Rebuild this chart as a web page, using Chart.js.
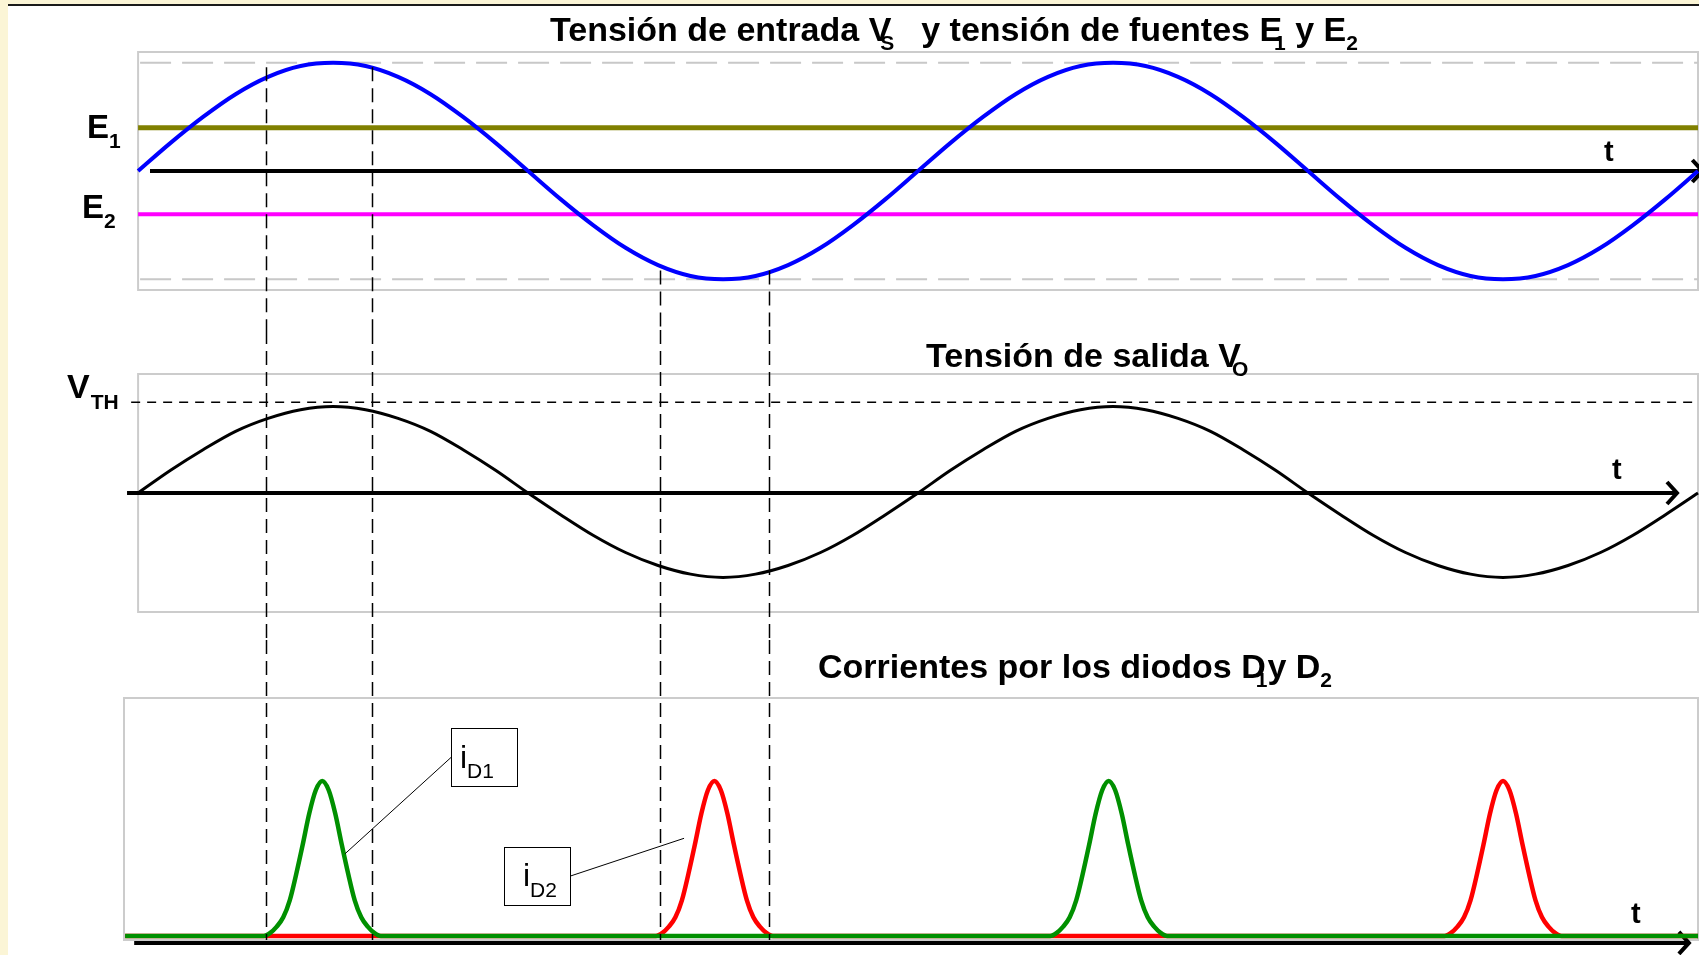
<!DOCTYPE html>
<html><head><meta charset="utf-8">
<script src="https://cdn.jsdelivr.net/npm/chart.js@4.4.1/dist/chart.umd.min.js"></script>
<style>
html,body{margin:0;padding:0;background:#fff;width:1699px;height:955px;overflow:hidden;position:relative;}
#creamLeft{position:absolute;left:0;top:0;width:8px;height:955px;background:#FBF5D6;}
#creamTop{position:absolute;left:0;top:0;width:1699px;height:4px;background:#FBF5D6;}
#topRule{position:absolute;left:8px;top:4px;width:1691px;height:2px;background:#1a1a1a;}
canvas{position:absolute;left:0;}
</style></head><body>
<div id="creamLeft"></div><div id="creamTop"></div><div id="topRule"></div>
<canvas id="c1" width="1699" height="330" style="top:0px"></canvas>
<canvas id="c2" width="1699" height="310" style="top:330px"></canvas>
<canvas id="c3" width="1699" height="315" style="top:640px"></canvas>
<script>
// ---- time axis (electrical degrees) ----
const tDeg = [0,15,30,45,60,75,90,105,120,135,150,165,180,195,210,225,240,255,270,285,300,315,330,345,360,375,390,405,420,435,450,465,480,495,510,525,540,555,570,585,600,615,630,645,660,675,690,705,720];
// ---- input voltage Vs (per unit) ----
const vS = [0,0.26,0.5,0.71,0.87,0.97,1,0.97,0.87,0.71,0.5,0.26,0,-0.26,-0.5,-0.71,-0.87,-0.97,-1,-0.97,-0.87,-0.71,-0.5,-0.26,0,0.26,0.5,0.71,0.87,0.97,1,0.97,0.87,0.71,0.5,0.26,0,-0.26,-0.5,-0.71,-0.87,-0.97,-1,-0.97,-0.87,-0.71,-0.5,-0.26,0];
// ---- source levels ----
const E1 = 0.40;
const E2 = -0.40;
const tLevel = [0, 720];
// ---- output voltage Vo ----
const vO = [0,0.21,0.4,0.57,0.69,0.77,0.8,0.77,0.69,0.57,0.4,0.21,0,-0.2,-0.39,-0.55,-0.67,-0.75,-0.78,-0.75,-0.67,-0.55,-0.39,-0.2,0,0.21,0.4,0.57,0.69,0.77,0.8,0.77,0.69,0.57,0.4,0.21,0,-0.2,-0.39,-0.55,-0.67,-0.75,-0.78,-0.75,-0.67,-0.55,-0.39,-0.2,0];
const VTH = 0.84;
const tVth = [-3.2, 720];
// ---- diode currents ----
const tD1 = [-6,58,61,64,67,70,73,76,79,82,85,88,91,94,97,100,103,106,109,112,421,424,427,430,433,436,439,442,445,448,451,454,457,460,463,466,469,472,475,720];
const iD1 = [0,0,0.02,0.06,0.12,0.23,0.4,0.59,0.79,0.94,1,0.94,0.79,0.59,0.4,0.23,0.12,0.06,0.02,0,0,0.02,0.06,0.12,0.23,0.4,0.59,0.79,0.94,1,0.94,0.79,0.59,0.4,0.23,0.12,0.06,0.02,0,0];
const tD2 = [-6,239,242,245,248,251,254,257,260,263,266,269,272,275,278,281,284,287,290,293,603,606,609,612,615,618,621,624,627,630,633,636,639,642,645,648,651,654,657,720];
const iD2 = [0,0,0.02,0.06,0.12,0.23,0.4,0.59,0.79,0.94,1,0.94,0.79,0.59,0.4,0.23,0.12,0.06,0.02,0,0,0.02,0.06,0.12,0.23,0.4,0.59,0.79,0.94,1,0.94,0.79,0.59,0.4,0.23,0.12,0.06,0.02,0,0];
// ---- reference instants (vertical dashed lines) ----
const markT = [59, 108, 241, 291];
const markFrom = [0.96, 0.96, -0.92, -0.92];
const gridVs = [1, -1];

const FONT = '"Liberation Sans", Arial, sans-serif';
const pts = (xs, ys) => xs.map((x, i) => ({x, y: ys[i]}));
const flat = (xs, v) => xs.map(x => ({x, y: v}));

function rich(ctx, x, y, parts) {
  let cx = x;
  ctx.textAlign = 'left'; ctx.textBaseline = 'alphabetic'; ctx.fillStyle = '#000';
  for (const p of parts) {
    ctx.font = (p.w || 'bold') + ' ' + p.s + 'px ' + FONT;
    cx += (p.dx || 0);
    ctx.fillText(p.t, cx, y + (p.dy || 0));
    cx += ctx.measureText(p.t).width;
  }
}
function seg(ctx, x0, y0, x1, y1) { ctx.beginPath(); ctx.moveTo(x0, y0); ctx.lineTo(x1, y1); ctx.stroke(); }
function arrow(ctx, x0, x1, y, lw) {
  ctx.strokeStyle = '#000'; ctx.lineWidth = lw; ctx.setLineDash([]); ctx.lineCap = 'butt'; ctx.lineJoin = 'miter';
  seg(ctx, x0, y, x1, y);
  ctx.beginPath(); ctx.moveTo(x1 - 10, y - 11); ctx.lineTo(x1, y); ctx.lineTo(x1 - 10, y + 11); ctx.stroke();
}
function markers(chart, yFrom, yTo) {
  const {ctx, scales: {x}} = chart;
  ctx.save();
  ctx.strokeStyle = '#000'; ctx.lineWidth = 1.5; ctx.setLineDash([14, 7]);
  markT.forEach((t, i) => { const px = Math.round(x.getPixelForValue(t)) + 0.5; seg(ctx, px, yFrom(i), px, yTo); });
  ctx.restore();
}
function panelBox(chart, fromValue) {
  const {ctx, chartArea: a, scales: {x}} = chart;
  const left = fromValue === null ? a.left : x.getPixelForValue(fromValue);
  ctx.strokeStyle = '#cccccc'; ctx.lineWidth = 2; ctx.setLineDash([]);
  ctx.strokeRect(left, a.top, a.right - left, a.bottom - a.top);
  return left;
}

function baseOptions(yMin, yMax, padTop, padBottom) {
  return {
    responsive: false, animation: false, devicePixelRatio: 1,
    layout: {padding: {left: 124, right: 1, top: padTop, bottom: padBottom}},
    plugins: {legend: {display: false}, tooltip: {enabled: false}, title: {display: false}},
    scales: {
      x: {type: 'linear', min: -6.5, max: 720, display: false},
      y: {type: 'linear', min: yMin, max: yMax, display: false}
    },
    elements: {point: {radius: 0}, line: {cubicInterpolationMode: 'monotone'}}
  };
}

// ---------- Chart 1: input voltage and sources ----------
const topDeco = {
  id: 'topDeco',
  beforeDatasetsDraw(chart) {
    const {ctx, chartArea: a, scales: {x, y}} = chart;
    ctx.save();
    const left = panelBox(chart, 0);
    ctx.strokeStyle = '#c8c8c8'; ctx.lineWidth = 2; ctx.setLineDash([31, 11]);
    gridVs.forEach(v => { const py = y.getPixelForValue(v); seg(ctx, left + 2, py, a.right, py); });
    arrow(ctx, x.getPixelForValue(5.5), x.getPixelForValue(722), y.getPixelForValue(0), 4);
    ctx.restore();
  },
  afterDatasetsDraw(chart) {
    const {ctx, scales: {y}} = chart;
    markers(chart, i => y.getPixelForValue(markFrom[i]), chart.height);
    ctx.save();
    rich(ctx, 550, 41, [
      {t: 'Tensión de entrada V', s: 34}, {t: 'S', s: 21, dy: 9, dx: -11},
      {t: '  y tensión de fuentes E', s: 34, dx: 8}, {t: '1', s: 21, dy: 9, dx: -8},
      {t: ' y E', s: 34}, {t: '2', s: 21, dy: 9}
    ]);
    rich(ctx, 87, y.getPixelForValue(E1) + 10, [{t: 'E', s: 33}, {t: '1', s: 21, dy: 10}]);
    rich(ctx, 82, y.getPixelForValue(E2) + 4, [{t: 'E', s: 33}, {t: '2', s: 21, dy: 10}]);
    rich(ctx, 1604, 161, [{t: 't', s: 29}]);
    ctx.restore();
  }
};
new Chart(document.getElementById('c1'), {
  type: 'line',
  data: {datasets: [
    {data: pts(tDeg, vS), borderColor: '#0000ff', borderWidth: 4, clip: false},
    {data: flat(tLevel, E1), borderColor: '#808000', borderWidth: 5, clip: false},
    {data: flat(tLevel, E2), borderColor: '#ff00ff', borderWidth: 4, clip: false}
  ]},
  options: baseOptions(-1.1, 1.1, 52, 40),
  plugins: [topDeco]
});

// ---------- Chart 2: output voltage ----------
const midDeco = {
  id: 'midDeco',
  beforeDatasetsDraw(chart) {
    const {ctx, scales: {x, y}} = chart;
    ctx.save();
    panelBox(chart, 0);
    arrow(ctx, x.getPixelForValue(-5.1), x.getPixelForValue(710.3), y.getPixelForValue(0), 4);
    ctx.restore();
  },
  afterDatasetsDraw(chart) {
    const {ctx, scales: {y}} = chart;
    markers(chart, () => 0, chart.height);
    ctx.save();
    rich(ctx, 926, 37, [{t: 'Tensión de salida V', s: 34}, {t: 'O', s: 21, dy: 9, dx: -9}]);
    rich(ctx, 67, y.getPixelForValue(VTH) - 4, [{t: 'V', s: 34}, {t: 'TH', s: 21, dy: 11, dx: 1}]);
    rich(ctx, 1612, 149, [{t: 't', s: 29}]);
    ctx.restore();
  }
};
new Chart(document.getElementById('c2'), {
  type: 'line',
  data: {datasets: [
    {data: pts(tDeg, vO), borderColor: '#000000', borderWidth: 3, clip: false},
    {data: flat(tVth, VTH), borderColor: '#000000', borderWidth: 1.5, borderDash: [9, 7], clip: false}
  ]},
  options: baseOptions(-1.1, 1.1, 44, 28),
  plugins: [midDeco]
});

// ---------- Chart 3: diode currents ----------
const botDeco = {
  id: 'botDeco',
  beforeDatasetsDraw(chart) {
    const {ctx, scales: {x, y}} = chart;
    ctx.save();
    panelBox(chart, null);
    arrow(ctx, x.getPixelForValue(-1.8), x.getPixelForValue(715.8), y.getPixelForValue(-0.045), 4);
    ctx.restore();
  },
  afterDatasetsDraw(chart) {
    const {ctx, chartArea: a, scales: {x, y}} = chart;
    markers(chart, () => 0, a.bottom);
    ctx.save();
    rich(ctx, 818, 38, [
      {t: 'Corrientes por los diodos D', s: 34}, {t: '1', s: 21, dy: 9, dx: -10},
      {t: 'y D', s: 34}, {t: '2', s: 21, dy: 9}
    ]);
    rich(ctx, 1631, 283, [{t: 't', s: 29}]);
    // callout boxes
    ctx.strokeStyle = '#000'; ctx.lineWidth = 1; ctx.setLineDash([]);
    ctx.strokeRect(451.5, 88.5, 66, 58);
    ctx.strokeRect(504.5, 207.5, 66, 58);
    seg(ctx, 451.5, 117, x.getPixelForValue(95.5), y.getPixelForValue(0.53));
    seg(ctx, 570.5, 236, x.getPixelForValue(252), y.getPixelForValue(0.63));
    rich(ctx, 460, 128, [{t: 'i', s: 32, w: 'normal'}, {t: 'D1', s: 21, w: 'normal', dy: 10}]);
    rich(ctx, 523, 246, [{t: 'i', s: 32, w: 'normal'}, {t: 'D2', s: 21, w: 'normal', dy: 11}]);
    ctx.restore();
  }
};
new Chart(document.getElementById('c3'), {
  type: 'line',
  data: {datasets: [
    {data: pts(tD1, iD1), borderColor: '#009000', borderWidth: 4.5, clip: false},
    {data: pts(tD2, iD2), borderColor: '#ff0000', borderWidth: 4.5, clip: false}
  ]},
  options: baseOptions(-0.026, 1.535, 58, 15),
  plugins: [botDeco]
});
</script>
</body></html>
